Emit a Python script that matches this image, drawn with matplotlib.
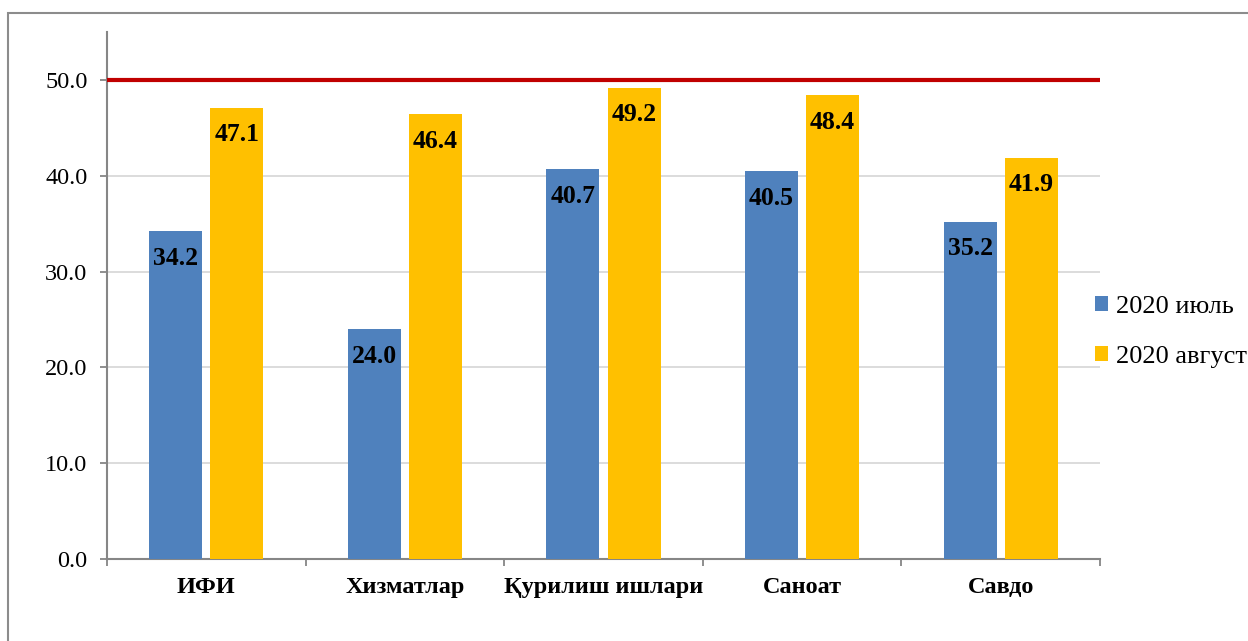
import matplotlib
matplotlib.use("Agg")
import matplotlib.pyplot as plt
import numpy as np
from matplotlib.patches import Rectangle
from matplotlib.ticker import FormatStrFormatter

plt.rcParams["font.family"] = ["Liberation Serif", "DejaVu Serif"]

categories = ["ИФИ", "Хизматлар", "Қурилиш ишлари", "Саноат", "Савдо"]
july = [34.2, 24.0, 40.7, 40.5, 35.2]
august = [47.1, 46.4, 49.2, 48.4, 41.9]
series_names = ["2020 июль", "2020 август"]
threshold = 50.0

BLUE = "#4F81BD"
YELLOW = "#FFC000"
GRAY = "#868686"

fig = plt.figure(figsize=(12.48, 6.41), dpi=100)
ax = fig.add_axes([107 / 1248, 82 / 641, (1100 - 107) / 1248, (559 - 32) / 641])

x = np.arange(len(categories))
w = 0.267
off = 0.154
b1 = ax.bar(x - off, july, w, color=BLUE, label=series_names[0], zorder=3)
b2 = ax.bar(x + off, august, w, color=YELLOW, label=series_names[1], zorder=3)

# подписи значений внутри столбцов
for bars in (b1, b2):
    for rect in bars:
        h = rect.get_height()
        ax.annotate(f"{h:.1f}", (rect.get_x() + rect.get_width() / 2, h),
                    xytext=(0, -19.5), textcoords="offset points",
                    ha="center", va="center", fontsize=18.5, fontweight="bold", zorder=4)

ax.axhline(threshold, color="#C00000", lw=3, zorder=5)

ax.set_xlim(-0.5, len(categories) - 0.5)
ax.set_ylim(0, 55)
ax.set_yticks(np.arange(0, 51, 10))
ax.yaxis.set_major_formatter(FormatStrFormatter("%.1f"))
ax.yaxis.grid(True, color="#D9D9D9", lw=1.3, zorder=0)
ax.set_axisbelow(True)

ax.set_xticks(np.arange(-0.5, len(categories)), labels=[""] * (len(categories) + 1))
ax.set_xticks(x, labels=categories, minor=True)
ax.tick_params(axis="x", which="major", direction="out", length=5, width=1.3, color=GRAY)
ax.tick_params(axis="x", which="minor", length=0, pad=13, labelsize=17.5)
for lbl in ax.get_xticklabels(minor=True):
    lbl.set_fontweight("bold")
ax.tick_params(axis="y", direction="out", length=5, width=1.3, color=GRAY, pad=9, labelsize=17.5)

for s in ("top", "right"):
    ax.spines[s].set_visible(False)
for s in ("left", "bottom"):
    ax.spines[s].set_color(GRAY)
    ax.spines[s].set_linewidth(1.5)

fig.legend(handles=[b1, b2], loc="center left", bbox_to_anchor=(1095 / 1248, 1 - 332 / 641),
           frameon=False, fontsize=19, handlelength=0.5, handleheight=0.5,
           handletextpad=0.3, labelspacing=1.08, borderpad=0, borderaxespad=0)

# рамка диаграммы (уходит за правый и нижний край)
fig.patches.append(Rectangle((8 / 1248, -0.1), 2, 1 - 13 / 641 + 0.1,
                             transform=fig.transFigure, fill=False,
                             edgecolor="#8C8C8C", lw=1.5))

fig.savefig("out.png", dpi=100)
